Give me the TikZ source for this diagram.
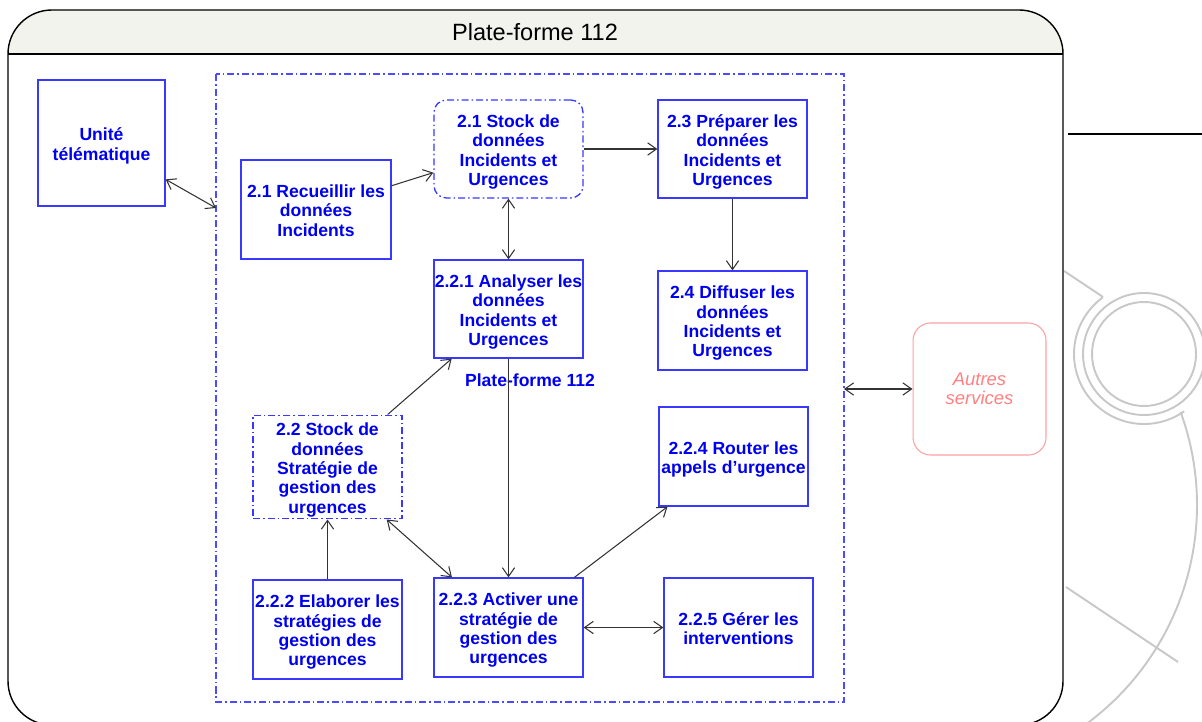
\documentclass[tikz,border=0pt]{standalone}
\usepackage{fontspec}
\setmainfont{Liberation Sans}
\usetikzlibrary{arrows.meta}

\definecolor{boxblue}{HTML}{3838FF}
\definecolor{txtblue}{HTML}{0000F0}
\definecolor{frameblue}{HTML}{4C4CFF}
\definecolor{pinkline}{HTML}{FFA0A0}
\definecolor{pinktext}{HTML}{FF8080}
\definecolor{decogray}{HTML}{C8C8C8}
\definecolor{bandfill}{HTML}{F3F3EE}

% centred lines of a process box, set a little low in the box
\newcommand{\proctext}[1]{\begin{tabular}{@{}c@{}}\rule{0pt}{11.7pt}#1\end{tabular}}

\begin{document}
\begin{tikzpicture}[x=0.02cm,y=-0.02cm,
  proc/.style={draw=boxblue,line width=0.75pt,text=txtblue,
    font=\bfseries\fontsize{10}{11}\selectfont,inner sep=0pt,
    minimum width=2.98cm,minimum height=1.98cm},
  dashdot/.style={dash pattern=on 4pt off 1.7pt on 0.9pt off 1.7pt},
  store/.style={proc,dashdot},
  tip/.tip={Straight Barb[length=5pt,width=7pt]},
  flow/.style={draw=black!80,line width=0.6pt,-tip},
  twoway/.style={draw=black!80,line width=0.6pt,tip-tip},
  deco/.style={draw=decogray,line width=1.1pt}]

\useasboundingbox (0,0) rectangle (1202,722);

% background ornament on the right
\draw[deco] (1144,354) circle (52);
\draw[deco] (1144,354) circle (61);
\draw[deco] plot[domain=234:55,samples=80] ({1144+70*cos(\x)},{354+70*sin(\x)});
\draw[deco] plot[domain=-20:56,samples=100] ({925+272*cos(\x)},{505+272*sin(\x)});
\draw[deco] (1064,271) -- (1103,297);
\draw[deco] (1066,587) -- (1178,662);
\draw[black,line width=0.8pt] (1068,134) -- (1202,134);

% outer frame with its title band
\begin{scope}
  \clip[rounded corners=25pt] (8,10) rectangle (1063,725);
  \fill[bandfill] (8,10) rectangle (1063,54);
\end{scope}
\draw[black,line width=0.8pt,rounded corners=25pt] (8,10) rectangle (1063,725);
\draw[black,line width=0.8pt] (8,54) -- (1063,54);
\node[font=\fontsize{13.4}{15}\selectfont] (title) at (535,32) {Plate-forme 112};

% system boundary
\draw[frameblue,line width=0.75pt,dashdot] (216,74) rectangle (844,702);
\coordinate (bleft) at (216,208);
\coordinate (bright) at (844,389);

% processes and data stores
\node[proc,minimum width=2.54cm,minimum height=2.52cm] (unite) at (101.5,143) {\proctext{Unité\\télématique}};
\node[proc,minimum width=3cm] (rec) at (316,209.5) {\proctext{2.1 Recueillir les\\données\\Incidents}};
\node[store,rounded corners=7pt,minimum height=1.96cm] (stockA) at (508.5,149) {\proctext{2.1 Stock de\\données\\Incidents et\\Urgences}};
\node[proc,minimum height=1.96cm] (prep) at (732.5,149) {\proctext{2.3 Préparer les\\données\\Incidents et\\Urgences}};
\node[proc] (diff) at (732.5,320.5) {\proctext{2.4 Diffuser les\\données\\Incidents et\\Urgences}};
\node[proc,minimum height=1.96cm] (ana) at (508.5,309) {\proctext{2.2.1 Analyser les\\données\\Incidents et\\Urgences}};
\node[text=txtblue,font=\bfseries\fontsize{10}{11}\selectfont] (pflabel) at (530,380) {Plate-forme 112};
\node[store,minimum height=1.96cm] (stockB) at (327.5,467) {\proctext{2.2 Stock de\\données\\Stratégie de\\gestion des\\urgences}};
\node[proc] (route) at (733.5,456.5) {\proctext{2.2.4 Router les\\appels d'urgence}};
\node[proc] (elab) at (327.5,629.5) {\proctext{2.2.2 Elaborer les\\stratégies de\\gestion des\\urgences}};
\node[proc] (act) at (508.5,627.5) {\proctext{2.2.3 Activer une\\stratégie de\\gestion des\\urgences}};
\node[proc] (gerer) at (738.5,627.5) {\proctext{2.2.5 Gérer les\\interventions}};
\node[draw=pinkline,line width=0.6pt,rounded corners=10pt,inner sep=0pt,
  minimum width=2.66cm,minimum height=2.64cm,text=pinktext,align=center,
  font=\itshape\fontsize{10.5}{11}\selectfont] (autres) at (979.5,389) {Autres\\services};

% flows
\draw[twoway] (unite) -- (bleft);
\draw[flow] (rec) -- (stockA);
\draw[flow] (stockA) -- (prep);
\draw[twoway] (stockA) -- (ana);
\draw[flow] (prep) -- (diff);
\draw[flow] (stockB) -- (ana);
\draw[flow] (ana) -- (act);
\draw[flow] (elab) -- (stockB);
\draw[twoway] (stockB) -- (act);
\draw[flow] (act) -- (route);
\draw[twoway] (act) -- (gerer);
\draw[twoway] (bright) -- (autres);
\end{tikzpicture}
\end{document}
